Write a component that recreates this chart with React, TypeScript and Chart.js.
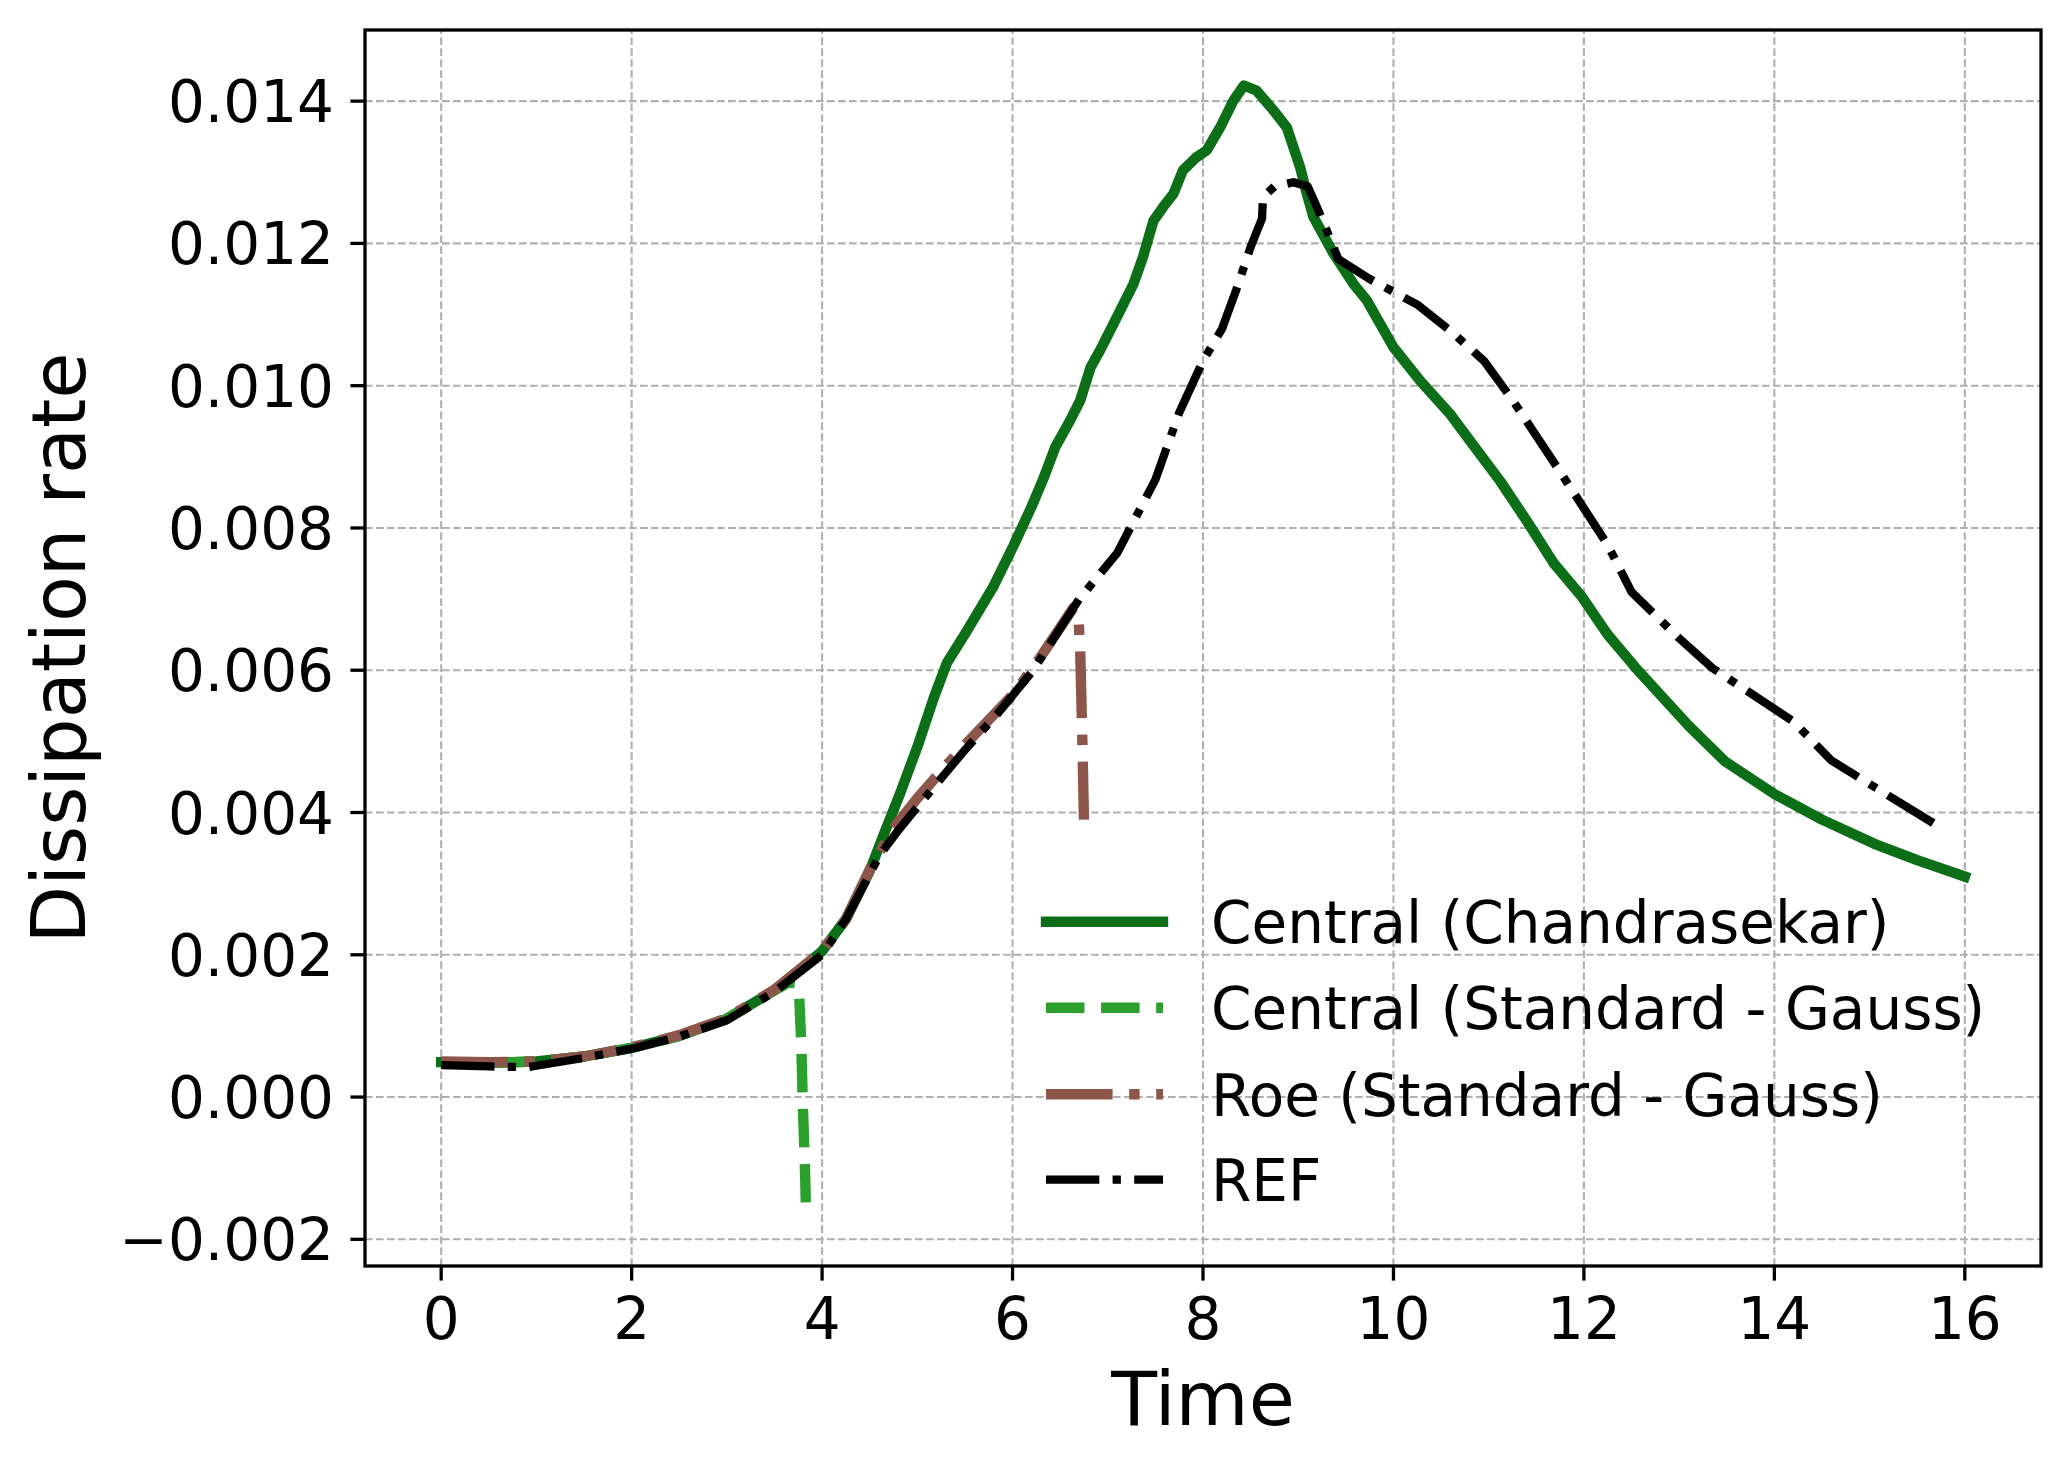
import React, { useEffect, useRef } from "react";
import { Chart, registerables } from "chart.js";

Chart.register(...registerables);

// ---------- data ----------
const chandraT = [0, 0.5, 1.0, 1.5, 2.0, 2.5, 3.0, 3.5, 4.0, 4.25, 4.5, 4.65, 4.82, 5.0, 5.17, 5.31, 5.52, 5.8, 6.01, 6.2, 6.32, 6.45, 6.6, 6.71, 6.82, 6.92, 7.06, 7.27, 7.37, 7.48, 7.58, 7.69, 7.79, 7.93, 8.04, 8.18, 8.32, 8.43, 8.56, 8.74, 8.88, 9.02, 9.09, 9.16, 9.37, 9.58, 9.72, 10.0, 10.28, 10.59, 10.83, 11.12, 11.4, 11.68, 11.98, 12.25, 12.54, 13.1, 13.48, 14.0, 14.5, 15.05, 15.5, 16.0];
const chandraD = [0.00049, 0.00048, 0.0005, 0.00057, 0.00069, 0.00086, 0.0011, 0.0015, 0.00205, 0.0025, 0.00318, 0.0037, 0.00427, 0.00492, 0.0056, 0.0061, 0.00655, 0.00718, 0.00775, 0.0083, 0.00868, 0.00914, 0.0095, 0.00979, 0.01026, 0.0105, 0.01087, 0.01143, 0.01181, 0.01232, 0.01251, 0.0127, 0.01303, 0.01321, 0.01331, 0.01363, 0.01401, 0.01422, 0.01415, 0.01387, 0.01363, 0.01307, 0.0127, 0.01237, 0.01186, 0.01143, 0.0112, 0.01054, 0.01007, 0.00961, 0.00918, 0.00866, 0.0081, 0.00751, 0.00703, 0.0065, 0.00604, 0.00522, 0.00472, 0.00426, 0.0039, 0.00356, 0.00333, 0.0031];

const gaussT = [0, 0.5, 1.0, 1.5, 2.0, 2.5, 3.0, 3.5, 3.65, 3.72, 3.76, 3.78, 3.8, 3.82, 3.83];
const gaussD = [0.00049, 0.00048, 0.0005, 0.00057, 0.00069, 0.00086, 0.0011, 0.0015, 0.00161, 0.0016, 0.0014, 0.0008, -0.0002, -0.001, -0.00155];

const roeT = [0, 0.5, 1.0, 1.5, 2.0, 2.5, 3.0, 3.5, 4.0, 4.25, 4.5, 4.75, 5.0, 5.25, 5.5, 5.75, 6.0, 6.25, 6.5, 6.64, 6.69, 6.71, 6.73, 6.75];
const roeD = [0.0005, 0.00049, 0.0005, 0.00057, 0.0007, 0.00087, 0.00111, 0.00151, 0.00205, 0.0025, 0.0032, 0.00378, 0.0042, 0.00458, 0.00495, 0.0053, 0.00565, 0.0061, 0.0066, 0.00688, 0.0068, 0.0063, 0.0052, 0.0039];

const refT = [0, 0.5, 0.9, 1.0, 1.5, 2.0, 2.5, 3.0, 3.5, 4.0, 4.25, 4.6, 4.8, 5.15, 5.5, 5.85, 6.2, 6.7, 7.1, 7.5, 7.75, 8.0, 8.2, 8.35, 8.5, 8.62, 8.63, 8.75, 8.95, 9.1, 9.2, 9.3, 9.42, 9.75, 10.25, 10.6, 10.95, 11.25, 11.75, 12.25, 12.5, 13.0, 13.35, 14.2, 14.6, 15.0, 15.67];
const refD = [0.00045, 0.00043, 0.00042, 0.00044, 0.00055, 0.00068, 0.00085, 0.00108, 0.00148, 0.002, 0.0025, 0.00339, 0.00375, 0.00432, 0.00488, 0.0054, 0.00597, 0.007, 0.00765, 0.00868, 0.00962, 0.01035, 0.0108, 0.01135, 0.01195, 0.01235, 0.01265, 0.0128, 0.01286, 0.0128, 0.0125, 0.01218, 0.01178, 0.0115, 0.01114, 0.01077, 0.01035, 0.0098, 0.00879, 0.00776, 0.0071, 0.00645, 0.00603, 0.00528, 0.00473, 0.0044, 0.00385];

const seriesLabels = ["Central (Chandrasekar)", "Central (Standard - Gauss)", "Roe (Standard - Gauss)", "REF"];

const xTicks = [0, 2, 4, 6, 8, 10, 12, 14, 16];
const xTickLabels = ["0", "2", "4", "6", "8", "10", "12", "14", "16"];
const yTicks = [-0.002, 0, 0.002, 0.004, 0.006, 0.008, 0.01, 0.012, 0.014];
const yTickLabels = ["\u22120.002", "0.000", "0.002", "0.004", "0.006", "0.008", "0.010", "0.012", "0.014"];

const xTitle = "Time";
const yTitle = "Dissipation rate";

// ---------- styles ----------
const FONT = "'DejaVu Sans', 'Liberation Sans', sans-serif";
const W = 2070;
const H = 1471;
const AREA = { left: 365, top: 30, right: 2041, bottom: 1266 };

const styles = [
  { color: "#0c6e16", width: 10.4, dash: [] as number[], cap: "square" as CanvasLineCap },
  { color: "#2ca02c", width: 10.4, dash: [38.5, 16.6], cap: "butt" as CanvasLineCap },
  { color: "#8c564b", width: 10.4, dash: [66.6, 16.6, 10.4, 16.6], cap: "butt" as CanvasLineCap },
  { color: "#000000", width: 8.3, dash: [53.3, 13.3, 8.3, 13.3], cap: "butt" as CanvasLineCap },
];

const toPts = (t: number[], d: number[]) => t.map((v, i) => ({ x: v, y: d[i] }));

const mplPlugin = {
  id: "mplAxes",
  beforeDatasetsDraw(chart: any) {
    const { ctx, chartArea: a, scales } = chart;
    const xs = scales.x;
    const ys = scales.y;
    ctx.save();
    ctx.strokeStyle = "#b0b0b0";
    ctx.lineWidth = 2.1;
    ctx.setLineDash([7.7, 3.3]);
    ctx.lineCap = "butt";
    for (const t of xTicks) {
      const px = xs.getPixelForValue(t);
      ctx.beginPath();
      ctx.moveTo(px, a.bottom);
      ctx.lineTo(px, a.top);
      ctx.stroke();
    }
    for (const t of yTicks) {
      const py = ys.getPixelForValue(t);
      ctx.beginPath();
      ctx.moveTo(a.left, py);
      ctx.lineTo(a.right, py);
      ctx.stroke();
    }
    ctx.restore();
  },
  afterDatasetsDraw(chart: any) {
    const { ctx, chartArea: a, scales } = chart;
    const xs = scales.x;
    const ys = scales.y;
    ctx.save();
    ctx.setLineDash([]);
    // spines
    ctx.strokeStyle = "#000";
    ctx.lineWidth = 3.3;
    ctx.lineJoin = "miter";
    ctx.strokeRect(a.left, a.top, a.right - a.left, a.bottom - a.top);
    // tick marks
    ctx.lineWidth = 3.3;
    ctx.lineCap = "butt";
    const tl = 14.6;
    for (const t of xTicks) {
      const px = xs.getPixelForValue(t);
      ctx.beginPath();
      ctx.moveTo(px, a.bottom);
      ctx.lineTo(px, a.bottom + tl);
      ctx.stroke();
    }
    for (const t of yTicks) {
      const py = ys.getPixelForValue(t);
      ctx.beginPath();
      ctx.moveTo(a.left, py);
      ctx.lineTo(a.left - tl, py);
      ctx.stroke();
    }
    // tick labels
    ctx.fillStyle = "#000";
    ctx.font = `58px ${FONT}`;
    ctx.textBaseline = "alphabetic";
    ctx.textAlign = "center";
    xTicks.forEach((t, i) => {
      ctx.fillText(xTickLabels[i], xs.getPixelForValue(t), a.bottom + 30 + 42.5);
    });
    ctx.textAlign = "right";
    yTicks.forEach((t, i) => {
      ctx.fillText(yTickLabels[i], a.left - 31, ys.getPixelForValue(t) + 21);
    });
    // axis titles
    ctx.font = `75px ${FONT}`;
    ctx.textAlign = "center";
    ctx.fillText(xTitle, (a.left + a.right) / 2, 1425);
    ctx.save();
    ctx.translate(85, (a.top + a.bottom) / 2);
    ctx.rotate(-Math.PI / 2);
    ctx.fillText(yTitle, 0, 0);
    ctx.restore();
    // legend (no frame)
    const rowBase = [943, 1029, 1115.5, 1201];
    const hx0 = 1046;
    const hx1 = 1163;
    ctx.font = `58px ${FONT}`;
    ctx.textAlign = "left";
    seriesLabels.forEach((lab, i) => {
      const st = styles[i];
      const ly = rowBase[i] - 21.3;
      ctx.save();
      ctx.strokeStyle = st.color;
      ctx.lineWidth = st.width;
      ctx.lineCap = st.cap;
      ctx.setLineDash(st.dash);
      ctx.beginPath();
      ctx.moveTo(hx0, ly);
      ctx.lineTo(hx1, ly);
      ctx.stroke();
      ctx.restore();
      ctx.fillStyle = "#000";
      ctx.fillText(lab, 1211, rowBase[i]);
    });
    ctx.restore();
  },
};

export default function App() {
  const ref = useRef<HTMLCanvasElement>(null);
  useEffect(() => {
    document.body.style.margin = "0";
    const series = [
      toPts(chandraT, chandraD),
      toPts(gaussT, gaussD),
      toPts(roeT, roeD),
      toPts(refT, refD),
    ];
    const chart = new Chart(ref.current as HTMLCanvasElement, {
      type: "line",
      data: {
        datasets: series.map((pts, i) => ({
          label: seriesLabels[i],
          data: pts,
          borderColor: styles[i].color,
          backgroundColor: styles[i].color,
          borderWidth: styles[i].width,
          borderDash: styles[i].dash,
          borderCapStyle: styles[i].cap,
          borderJoinStyle: "round",
          pointRadius: 0,
          tension: 0,
          fill: false,
          order: 3 - i,
        })),
      },
      options: {
        responsive: false,
        devicePixelRatio: 1,
        animation: false,
        layout: {
          padding: { left: AREA.left, top: AREA.top, right: W - AREA.right, bottom: H - AREA.bottom },
        },
        scales: {
          x: { type: "linear", min: -0.8, max: 16.8, display: false },
          y: { type: "linear", min: -0.002375, max: 0.015, display: false },
        },
        plugins: {
          legend: { display: false },
          tooltip: { enabled: false },
        },
        events: [],
      },
      plugins: [mplPlugin],
    } as any);
    return () => chart.destroy();
  }, []);
  return <canvas ref={ref} width={W} height={H} style={{ display: "block" }} />;
}
